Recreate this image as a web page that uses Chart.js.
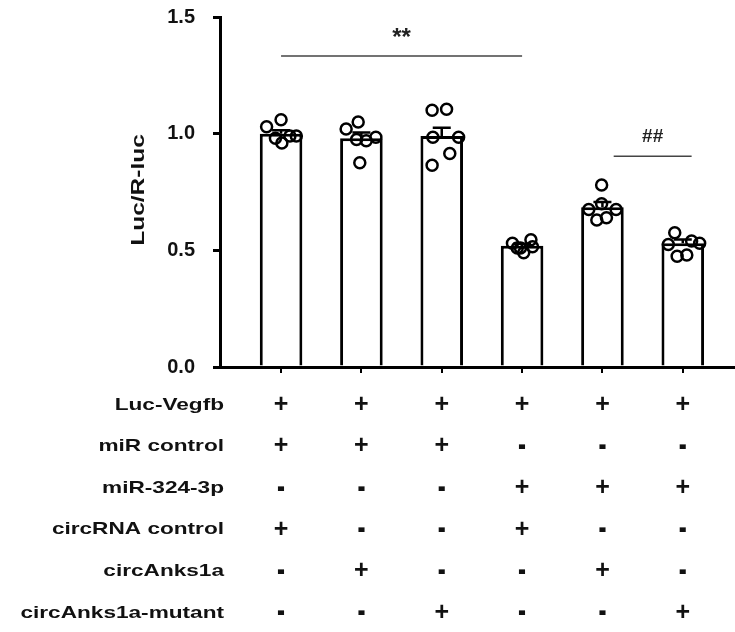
<!DOCTYPE html>
<html lang="en">
<head>
  <meta charset="UTF-8">
  <title>Luc/R-luc reporter assay</title>
  <style>
    html, body { margin: 0; padding: 0; background: #fff; }
    #wrap { width: 735px; height: 632px; position: relative; }
  </style>
</head>
<body>
  <div id="wrap"><canvas id="chart" width="735" height="632"></canvas></div>

  <script src="https://cdn.jsdelivr.net/npm/chart.js"></script>
  <script>
    // groups 1..6 along the x axis
    const groups = [1, 2, 3, 4, 5, 6];
    const means = [1.00, 0.98, 0.99, 0.52, 0.685, 0.53];
    const sems = [0.015, 0.025, 0.035, 0.008, 0.022, 0.016];

    // individual replicates per group
    const replicates = [
      [1.03, 1.06, 0.98, 0.96, 0.99, 0.99],
      [1.02, 1.05, 0.975, 0.97, 0.985, 0.875],
      [1.10, 1.105, 0.985, 0.985, 0.915, 0.865],
      [0.53, 0.51, 0.49, 0.545, 0.515, 0.51],
      [0.78, 0.70, 0.675, 0.675, 0.63, 0.64],
      [0.575, 0.54, 0.53, 0.525, 0.475, 0.48]
    ];
    // horizontal scatter of the replicates inside each bar
    const jitter = [
      [-0.18, 0.0, -0.07, 0.01, 0.11, 0.19],
      [-0.19, -0.04, -0.06, 0.06, 0.18, -0.02],
      [-0.12, 0.06, -0.11, 0.21, 0.10, -0.12],
      [-0.12, -0.02, 0.02, 0.11, 0.13, -0.06],
      [-0.01, -0.01, -0.17, 0.17, -0.07, 0.05],
      [-0.10, 0.11, 0.21, -0.18, -0.07, 0.05]
    ];

    const yTicks = [0, 0.5, 1.0, 1.5];

    const rowLabels = ['Luc-Vegfb', 'miR control', 'miR-324-3p', 'circRNA control', 'circAnks1a', 'circAnks1a-mutant'];
    const rowSigns = [
      ['+', '+', '+', '+', '+', '+'],
      ['+', '+', '+', '-', '-', '-'],
      ['-', '-', '-', '+', '+', '+'],
      ['+', '-', '-', '+', '-', '-'],
      ['-', '+', '-', '-', '+', '-'],
      ['-', '-', '+', '-', '-', '+']
    ];

    // significance brackets: from group, to group, height, label
    const brackets = [
      { from: 1, to: 4, y: 1.333, label: '**' },
      { from: 5.14, to: 6.11, y: 0.903, label: '##' }
    ];

    const FONT = '"Liberation Sans", Arial, sans-serif';

    const overlay = {
      id: 'overlay',
      afterDatasetDraw(chart, args) {
        if (args.index !== 0) return;
        const { ctx, scales: { x, y } } = chart;
        ctx.save();
        ctx.strokeStyle = '#000';
        ctx.lineWidth = 2.5;
        groups.forEach((g, i) => {
          const px = x.getPixelForValue(g);
          const y0 = y.getPixelForValue(means[i]);
          const y1 = y.getPixelForValue(means[i] + sems[i]);
          ctx.beginPath();
          ctx.moveTo(px, y0);
          ctx.lineTo(px, y1);
          ctx.moveTo(px - 9, y1);
          ctx.lineTo(px + 9, y1);
          ctx.stroke();
        });
        ctx.restore();
      },
      afterDraw(chart) {
        const { ctx, scales: { x, y }, chartArea } = chart;
        ctx.save();

        // significance marks
        ctx.strokeStyle = '#444';
        ctx.lineWidth = 1.5;
        ctx.fillStyle = '#222';
        ctx.textAlign = 'center';
        ctx.textBaseline = 'middle';
        brackets.forEach(b => {
          const x0 = x.getPixelForValue(b.from);
          const x1 = x.getPixelForValue(b.to);
          const py = y.getPixelForValue(b.y);
          ctx.beginPath();
          ctx.moveTo(x0, py);
          ctx.lineTo(x1, py);
          ctx.stroke();
          if (b.label === '**') {
            ctx.font = 'bold 24px ' + FONT;
            ctx.fillText(b.label, (x0 + x1) / 2, py - 18);
          } else {
            ctx.font = 'bold 19px ' + FONT;
            ctx.fillText(b.label, (x0 + x1) / 2, py - 20);
          }
        });

        // y axis title
        ctx.fillStyle = '#111';
        ctx.save();
        ctx.translate(chartArea.left - 81, (chartArea.top + chartArea.bottom) / 2 - 2);
        ctx.rotate(-Math.PI / 2);
        ctx.scale(1.36, 1);
        ctx.font = 'bold 18px ' + FONT;
        ctx.fillText('Luc/R-luc', 0, 0);
        ctx.restore();

        // treatment table
        const rowTop = chartArea.bottom + 38;
        const rowStep = 41.6;
        rowLabels.forEach((label, r) => {
          const py = rowTop + r * rowStep;
          ctx.save();
          ctx.translate(chartArea.left + 4, py);
          ctx.scale(1.33, 1);
          ctx.textAlign = 'right';
          ctx.font = 'bold 17px ' + FONT;
          ctx.fillText(label, 0, 0);
          ctx.restore();
          rowSigns[r].forEach((s, i) => {
            ctx.textAlign = 'center';
            const px = x.getPixelForValue(groups[i]);
            if (s === '+') {
              ctx.font = 'bold 25px ' + FONT;
              ctx.fillText(s, px, py);
            } else {
              ctx.save();
              ctx.translate(px, py);
              ctx.scale(1.2, 1.9);
              ctx.font = 'bold 20px ' + FONT;
              ctx.fillText(s, 0, 0);
              ctx.restore();
            }
          });
        });
        ctx.restore();
      }
    };

    new Chart(document.getElementById('chart'), {
      type: 'bar',
      data: {
        datasets: [
          {
            type: 'bar',
            data: groups.map((g, i) => ({ x: g, y: means[i] })),
            backgroundColor: '#fff',
            borderColor: '#000',
            borderWidth: 3,
            borderSkipped: 'start',
            barPercentage: 0.53,
            categoryPercentage: 1,
            order: 2
          },
          {
            type: 'scatter',
            data: replicates.flatMap((vals, g) => vals.map((v, k) => ({ x: groups[g] + jitter[g][k], y: v }))),
            pointStyle: 'circle',
            pointRadius: 5.5,
            pointBorderWidth: 2.5,
            pointBorderColor: '#000',
            pointBackgroundColor: 'rgba(0,0,0,0)',
            order: 1
          }
        ]
      },
      options: {
        responsive: false,
        animation: false,
        layout: { autoPadding: false, padding: { top: 17, right: 0, bottom: 259, left: 0 } },
        plugins: {
          legend: { display: false },
          tooltip: { enabled: false }
        },
        scales: {
          x: {
            type: 'linear',
            offset: false,
            min: 0.24,
            max: 6.65,
            afterBuildTicks: (scale) => { scale.ticks = groups.map(g => ({ value: g })); },
            afterFit: (scale) => { scale.height = 6; },
            ticks: { display: false },
            grid: { display: true, offset: false, drawOnChartArea: false, drawTicks: true, tickLength: 6, color: '#000', lineWidth: 2 },
            border: { display: true, color: '#000', width: 3 }
          },
          y: {
            min: 0,
            max: 1.5,
            afterBuildTicks: (scale) => { scale.ticks = yTicks.map(v => ({ value: v })); },
            afterFit: (scale) => {
              scale.width = 220;
              scale.paddingTop = 0;
              scale.paddingBottom = 0;
            },
            ticks: {
              padding: 18,
              color: '#111',
              font: { family: FONT, size: 20, weight: 'bold' },
              callback: (v) => Number(v).toFixed(1)
            },
            grid: { display: true, drawOnChartArea: false, drawTicks: true, tickLength: 7, color: '#000', lineWidth: 3 },
            border: { display: true, color: '#000', width: 3 }
          }
        }
      },
      plugins: [overlay]
    });
  </script>
</body>
</html>
